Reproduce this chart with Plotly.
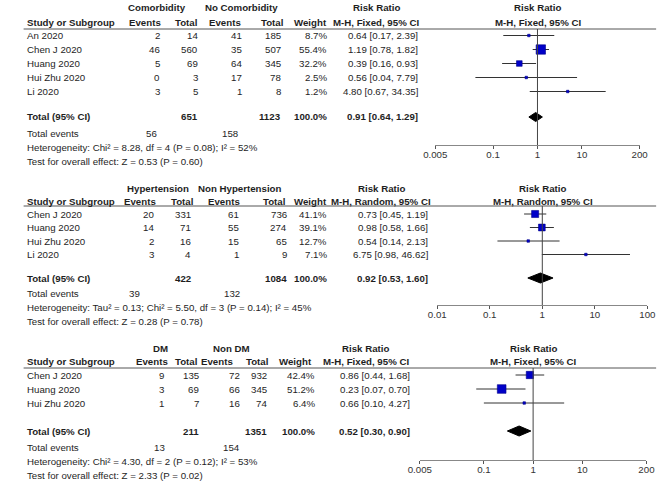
import math
import plotly.graph_objects as go

W, H = 669, 486

# ---------------- Data: panel 1 (Comorbidity) ----------------
p1_groups = ["Comorbidity", "No Comorbidity"]
p1_studies = ["An 2020", "Chen J 2020", "Huang 2020", "Hui Zhu 2020", "Li 2020"]
p1_ev_a = [2, 46, 5, 0, 3]
p1_tot_a = [14, 560, 69, 3, 5]
p1_ev_b = [41, 35, 64, 17, 1]
p1_tot_b = [185, 507, 345, 78, 8]
p1_weight = [8.7, 55.4, 32.2, 2.5, 1.2]
p1_rr = [0.64, 1.19, 0.39, 0.56, 4.80]
p1_lo = [0.17, 0.78, 0.16, 0.04, 0.67]
p1_hi = [2.39, 1.82, 0.93, 7.79, 34.35]
p1_total = [0.91, 0.64, 1.29]
p1_method = "M-H, Fixed, 95% CI"
p1_het = "Heterogeneity: Chi² = 8.28, df = 4 (P = 0.08); I² = 52%"
p1_test = "Test for overall effect: Z = 0.53 (P = 0.60)"
p1_ticks = [0.005, 0.1, 1, 10, 200]
p1_ticklabels = ["0.005", "0.1", "1", "10", "200"]

# ---------------- Data: panel 2 (Hypertension) ----------------
p2_groups = ["Hypertension", "Non Hypertension"]
p2_studies = ["Chen J 2020", "Huang 2020", "Hui Zhu 2020", "Li 2020"]
p2_ev_a = [20, 14, 2, 3]
p2_tot_a = [331, 71, 16, 4]
p2_ev_b = [61, 55, 15, 1]
p2_tot_b = [736, 274, 65, 9]
p2_weight = [41.1, 39.1, 12.7, 7.1]
p2_rr = [0.73, 0.98, 0.54, 6.75]
p2_lo = [0.45, 0.58, 0.14, 0.98]
p2_hi = [1.19, 1.66, 2.13, 46.62]
p2_total = [0.92, 0.53, 1.60]
p2_method = "M-H, Random, 95% CI"
p2_het = "Heterogeneity: Tau² = 0.13; Chi² = 5.50, df = 3 (P = 0.14); I² = 45%"
p2_test = "Test for overall effect: Z = 0.28 (P = 0.78)"
p2_ticks = [0.01, 0.1, 1, 10, 100]
p2_ticklabels = ["0.01", "0.1", "1", "10", "100"]

# ---------------- Data: panel 3 (DM) ----------------
p3_groups = ["DM", "Non DM"]
p3_studies = ["Chen J 2020", "Huang 2020", "Hui Zhu 2020"]
p3_ev_a = [9, 3, 1]
p3_tot_a = [135, 69, 7]
p3_ev_b = [72, 66, 16]
p3_tot_b = [932, 345, 74]
p3_weight = [42.4, 51.2, 6.4]
p3_rr = [0.86, 0.23, 0.66]
p3_lo = [0.44, 0.07, 0.10]
p3_hi = [1.68, 0.70, 4.27]
p3_total = [0.52, 0.30, 0.90]
p3_method = "M-H, Fixed, 95% CI"
p3_het = "Heterogeneity: Chi² = 4.30, df = 2 (P = 0.12); I² = 53%"
p3_test = "Test for overall effect: Z = 2.33 (P = 0.02)"
p3_ticks = [0.005, 0.1, 1, 10, 200]
p3_ticklabels = ["0.005", "0.1", "1", "10", "200"]

col_headers = ["Events", "Total", "Events", "Total", "Weight"]

# ---------------- Layout (pixel positions) ----------------
panels = [
    dict(groups=p1_groups, studies=p1_studies, ev_a=p1_ev_a, tot_a=p1_tot_a, ev_b=p1_ev_b,
         tot_b=p1_tot_b, w=p1_weight, rr=p1_rr, lo=p1_lo, hi=p1_hi, total=p1_total,
         method=p1_method, het=p1_het, test=p1_test, ticks=p1_ticks, ticklabels=p1_ticklabels,
         hdr1=7.5, hdr2=23, line=29, row0=35.5, step=14, tot_y=117, totev_y=133, het_y=147,
         test_y=161, axis_y=145, dom=(437, 648), cols=[153, 192, 237, 278, 325, 419],
         hcent=[137, 180, 220, 268, 308], gcent=[150, 237], rrl=376, rrr=543,
         totev_x=[150, 233], dh=4.5),
    dict(groups=p2_groups, studies=p2_studies, ev_a=p2_ev_a, tot_a=p2_tot_a, ev_b=p2_ev_b,
         tot_b=p2_tot_b, w=p2_weight, rr=p2_rr, lo=p2_lo, hi=p2_hi, total=p2_total,
         method=p2_method, het=p2_het, test=p2_test, ticks=p2_ticks, ticklabels=p2_ticklabels,
         hdr1=188, hdr2=201, line=206, row0=214, step=13.5, tot_y=278, totev_y=293, het_y=307,
         test_y=321, axis_y=305, dom=(439, 656), cols=[147, 185, 234, 284, 325, 429],
         hcent=[132, 175, 219, 271, 308], gcent=[151, 235], rrl=381, rrr=548,
         totev_x=[132, 235], dh=5),
    dict(groups=p3_groups, studies=p3_studies, ev_a=p3_ev_a, tot_a=p3_tot_a, ev_b=p3_ev_b,
         tot_b=p3_tot_b, w=p3_weight, rr=p3_rr, lo=p3_lo, hi=p3_hi, total=p3_total,
         method=p3_method, het=p3_het, test=p3_test, ticks=p3_ticks, ticklabels=p3_ticklabels,
         hdr1=348, hdr2=361, line=368, row0=375, step=14, tot_y=431, totev_y=447, het_y=461,
         test_y=475, axis_y=460, dom=(421, 655), cols=[157, 193, 235, 263, 313, 411],
         hcent=[145, 180, 212, 253, 293], gcent=[153, 227], rrl=365, rrr=538,
         totev_x=[158, 235], dh=5),
]

FONT = "Liberation Sans, Arial, sans-serif"
TXT = "#1e1e1e"
FS = 9.7


def fx(x):
    return x / W


def fy(y):
    return 1 - y / H


fig = go.Figure()
annotations = []
shapes = []


def txt(x, y, s, anchor="right", bold=False):
    annotations.append(dict(
        x=fx(x), y=fy(y), xref="paper", yref="paper",
        text=f"<b>{s}</b>" if bold else s,
        showarrow=False, xanchor=anchor, yanchor="middle",
        font=dict(family=FONT, size=FS, color=TXT), borderpad=0, borderwidth=0))


layout_axes = {}
for k, p in enumerate(panels):
    ax = "x" if k == 0 else f"x{k+1}"
    axkey = "xaxis" if k == 0 else f"xaxis{k+1}"
    n = len(p["studies"])
    ys = [p["row0"] + i * p["step"] for i in range(n)]

    # headers
    txt(p["gcent"][0], p["hdr1"], p["groups"][0], "center", True)
    txt(p["gcent"][1], p["hdr1"], p["groups"][1], "center", True)
    txt(p["rrl"], p["hdr1"], "Risk Ratio", "center", True)
    txt(p["rrr"], p["hdr1"], "Risk Ratio", "center", True)
    txt(15, p["hdr2"], "Study or Subgroup", "left", True)
    for c, h in zip(p["hcent"], col_headers):
        txt(c, p["hdr2"], h, "center", True)
    txt(p["rrl"], p["hdr2"], p["method"], "center", True)
    txt(p["rrr"], p["hdr2"], p["method"], "center", True)
    shapes.append(dict(type="line", xref="paper", yref="paper", x0=fx(12), x1=fx(665),
                       y0=fy(p["line"]), y1=fy(p["line"]),
                       line=dict(color="#555", width=1)))

    # study rows
    cols = p["cols"]
    for i in range(n):
        y = ys[i]
        txt(15, y, p["studies"][i], "left")
        txt(cols[0], y, str(p["ev_a"][i]))
        txt(cols[1], y, str(p["tot_a"][i]))
        txt(cols[2], y, str(p["ev_b"][i]))
        txt(cols[3], y, str(p["tot_b"][i]))
        txt(cols[4], y, f"{p['w'][i]:.1f}%")
        txt(cols[5], y, f"{p['rr'][i]:.2f} [{p['lo'][i]:.2f}, {p['hi'][i]:.2f}]")

    # total row
    ty = p["tot_y"]
    txt(15, ty, "Total (95% CI)", "left", True)
    txt(cols[1], ty, str(sum(p["tot_a"])), bold=True)
    txt(cols[3], ty, str(sum(p["tot_b"])), bold=True)
    txt(cols[4], ty, f"{sum(p['w']):.1f}%", bold=True)
    tr = p["total"]
    txt(cols[5], ty, f"{tr[0]:.2f} [{tr[1]:.2f}, {tr[2]:.2f}]", bold=True)
    txt(15, p["totev_y"], "Total events", "left")
    txt(p["totev_x"][0], p["totev_y"], str(sum(p["ev_a"])))
    txt(p["totev_x"][1], p["totev_y"], str(sum(p["ev_b"])))
    txt(15, p["het_y"], p["het"], "left")
    txt(15, p["test_y"], p["test"], "left")

    # forest: study squares with CI lines
    sizes = [max(2.5, 0.16 * w + 0.5) for w in p["w"]]
    fig.add_trace(go.Scatter(
        x=p["rr"], y=ys, xaxis=ax, yaxis="y", mode="markers", showlegend=False,
        hoverinfo="skip",
        marker=dict(symbol="square", size=sizes, color="#0000c8", opacity=1,
                    line=dict(color="#00008b", width=0.6)),
        error_x=dict(type="data", symmetric=False,
                     array=[h - r for h, r in zip(p["hi"], p["rr"])],
                     arrayminus=[r - l for r, l in zip(p["rr"], p["lo"])],
                     color="#333333", thickness=1, width=0)))
    # total diamond
    dh = p["dh"]
    fig.add_trace(go.Scatter(
        x=[tr[1], tr[0], tr[2], tr[0], tr[1]],
        y=[ty, ty - dh, ty, ty + dh, ty], xaxis=ax, yaxis="y", mode="lines",
        fill="toself", fillcolor="#000000", line=dict(color="#000000", width=1),
        showlegend=False, hoverinfo="skip"))

    # line of no effect
    shapes.append(dict(type="line", xref=ax, yref="y", x0=1, x1=1,
                       y0=p["line"], y1=p["axis_y"], line=dict(color="#444", width=1)))

    rng = [math.log10(p["ticks"][0]), math.log10(p["ticks"][-1])]
    layout_axes[axkey] = dict(
        type="log", domain=[fx(p["dom"][0]), fx(p["dom"][1])], range=rng,
        anchor="free", position=fy(p["axis_y"]), showline=True, linecolor="#888",
        linewidth=1, ticks="outside", ticklen=3, tickcolor="#555", tickwidth=1,
        ticklabelstandoff=-3,
        tickvals=p["ticks"], ticktext=p["ticklabels"], showgrid=False, zeroline=False,
        tickfont=dict(family=FONT, size=FS, color="#333"), fixedrange=True)

fig.update_layout(
    width=W, height=H, margin=dict(l=0, r=0, t=0, b=0, pad=0),
    paper_bgcolor="white", plot_bgcolor="rgba(0,0,0,0)",
    yaxis=dict(domain=[0, 1], range=[H, 0], visible=False, fixedrange=True),
    annotations=annotations, shapes=shapes, **layout_axes)

fig.write_html("out.html", config={"displayModeBar": False, "staticPlot": True},
               post_script="document.body.style.margin='0';document.body.style.overflow='hidden';")
